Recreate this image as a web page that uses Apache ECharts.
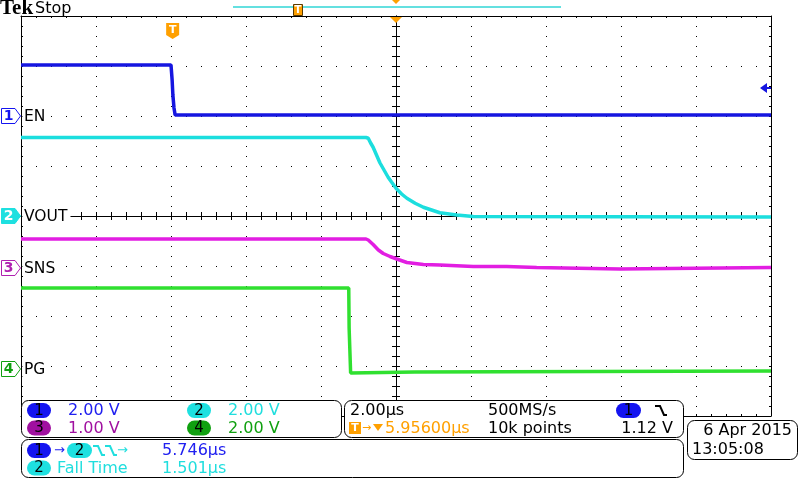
<!DOCTYPE html>
<html><head><meta charset="utf-8">
<script src="https://cdn.jsdelivr.net/npm/echarts@6/dist/echarts.min.js"></script>
<style>html,body{margin:0;padding:0;background:#fff}#c{width:800px;height:480px}</style>
</head><body><div id="c"></div>
<script>
// ---- data (time in µs relative to screen centre, values in volts) ----
const channelNames  = ['EN', 'VOUT', 'SNS', 'PG'];
const channelNums   = ['1', '2', '3', '4'];
const voltsPerDiv   = [2, 2, 1, 2];
const groundDiv     = [2, 0, -1.04, -3.06];
const triggerTime   = -5.956;
const triggerLevel  = 1.12;

const enTime   = [-10, -6.00, -5.97, -5.95, -5.92, -5.89, 10];
const enVolts  = [2.04, 2.04, 1.44, 0.84, 0.32, 0.04, 0.04];
const voutTime  = [-10, -0.80, -0.74, -0.68, -0.61, -0.52, -0.43, -0.32, -0.21, -0.12, 0, 0.15, 0.29, 0.51, 0.73, 0.95, 1.17, 1.62, 2.06, 10];
const voutVolts = [3.14, 3.14, 3.11, 2.93, 2.75, 2.44, 2.13, 1.84, 1.55, 1.36, 1.11, 0.88, 0.71, 0.51, 0.35, 0.24, 0.13, 0.04, -0.02, -0.04];
const snsTime  = [-10, -0.80, -0.74, -0.61, -0.47, -0.34, -0.16, 0.02, 0.29, 0.73, 1.17, 2.06, 2.95, 3.75, 5.97, 10];
const snsVolts = [0.58, 0.58, 0.56, 0.47, 0.36, 0.29, 0.23, 0.18, 0.11, 0.07, 0.06, 0.03, 0.03, 0.01, -0.02, 0.01];
const pgTime   = [-10, -1.26, -1.25, -1.23, -1.21, 0.5, 10];
const pgVolts  = [3.24, 3.24, 1.64, 1.60, -0.16, -0.12, -0.08];

const scaleTexts  = ['2.00 V', '2.00 V', '1.00 V', '2.00 V'];
const timebase    = '2.00\u00b5s';
const sampleRate  = '500MS/s';
const recordLen   = '10k points';
const trigOffset  = '5.95600\u00b5s';
const trigLvlText = '1.12 V';
const delayValue  = '5.746\u00b5s';
const fallLabel   = 'Fall Time';
const fallValue   = '1.501\u00b5s';
const dateText    = '6 Apr 2015';
const timeText    = '13:05:08';

// ---- styling ----
const traceColors = ['#1616e0', '#1cdede', '#e21ee2', '#30e030'];
const textColors  = ['#2020f0', '#20dede', '#a010a0', '#10a010'];
const pillColors  = ['#1414f0', '#1ee0e0', '#a010a0', '#10a010'];
const ORANGE = '#ffa000';
const FONT = '"DejaVu Sans"';

const chart = echarts.init(document.getElementById('c'));
const traces = [[enTime, enVolts], [voutTime, voutVolts], [snsTime, snsVolts], [pgTime, pgVolts]];
function toDiv(ch, v) { return groundDiv[ch] + v / voltsPerDiv[ch]; }

function xAx(pos, onZero, tickLen, split, inside) {
  return {
    type: 'value', min: -10, max: 10, interval: 2, position: pos,
    axisLine: { show: true, onZero: onZero, onZeroAxisIndex: 0, lineStyle: { color: '#000', width: 1 } },
    axisTick: { show: true, inside: inside, length: tickLen, lineStyle: { color: '#000', width: 1 } },
    minorTick: { show: true, splitNumber: 5, length: tickLen, lineStyle: { color: '#000', width: 1 } },
    splitLine: { show: split, lineStyle: { color: '#000', width: 1, type: [1, 9] } },
    axisLabel: { show: false }
  };
}
function yAx(pos, onZero, tickLen, split, inside) {
  return {
    type: 'value', min: -4, max: 4, interval: 1, position: pos,
    axisLine: { show: true, onZero: onZero, onZeroAxisIndex: 0, lineStyle: { color: '#000', width: 1 } },
    axisTick: { show: true, inside: inside, length: tickLen, lineStyle: { color: '#000', width: 1 } },
    minorTick: { show: true, splitNumber: 5, length: tickLen, lineStyle: { color: '#000', width: 1 } },
    splitLine: { show: split, lineStyle: { color: '#000', width: 1, type: [1, 14] } },
    axisLabel: { show: false }
  };
}

chart.setOption({
  animation: false,
  backgroundColor: '#fff',
  grid: { left: 21, top: 16, width: 750, height: 400 },
  xAxis: [
    xAx('bottom', true, 4, true, false),
    xAx('top', true, 4, false, false),
    xAx('top', false, 2, false, true),
    xAx('bottom', false, 2, false, true)
  ],
  yAxis: [
    yAx('left', true, 4, true, false),
    yAx('right', true, 4, false, false),
    yAx('left', false, 2, false, true),
    yAx('right', false, 2, false, true)
  ],
  series: traces.map(([ts, vs], ch) => ({
    type: 'line', name: channelNames[ch], xAxisIndex: 0, yAxisIndex: 0,
    data: ts.map((t, i) => [t, toDiv(ch, vs[i])]),
    showSymbol: false, symbol: 'none', z: 3,
    lineStyle: { color: traceColors[ch], width: 3.5 }
  }))
});

const finder = { xAxisIndex: 0, yAxisIndex: 0 };
const px = p => chart.convertToPixel(finder, p);
const G = [];
function txt(x, y, s, color, size, align, bold, family) {
  G.push({ type: 'text', x: x, y: y, z: 120,
    style: { text: s, fill: color, font: (bold ? 'bold ' : '') + size + 'px ' + (family || FONT),
      textAlign: align || 'left', textVerticalAlign: 'middle' } });
}
function rect(x, y, w, h, r, fill, stroke, z) {
  G.push({ type: 'rect', z: z || 100, shape: { x: x, y: y, width: w, height: h, r: r },
    style: { fill: fill, stroke: stroke || null, lineWidth: 1 } });
}
function pill(x, y, w, h, fill, s) {
  rect(x, y, w, h, h / 2, fill, null, 105);
  txt(x + w / 2, y + h / 2 + 0.5, s, '#000', 15, 'center');
}
function poly(points, fill, stroke, z, lw) {
  G.push({ type: 'polygon', z: z || 110, shape: { points: points }, style: { fill: fill, stroke: stroke || null, lineWidth: lw || 1 } });
}
function pline(points, stroke, lw, z) {
  G.push({ type: 'polyline', z: z || 110, shape: { points: points }, style: { fill: null, stroke: stroke, lineWidth: lw || 1.5 } });
}
function edgeGlyph(x, y, color) { pline([[x, y], [x + 5, y], [x + 9, y + 9], [x + 12, y + 9]], color, 2, 120); }

// header
txt(0, 9, 'Tek', '#000', 21, 'left', true, '"Liberation Serif"');
txt(35, 9, 'Stop', '#000', 16, 'left');
pline([[233, 7], [561, 7]], '#30d6d6', 1.5, 110);
rect(293.5, 4.5, 9, 11, 0, ORANGE, '#5a3a00', 112);
txt(298, 10.5, 'T', '#fff', 10, 'center', true);
const cx = px([0, 0])[0];
poly([[cx - 4, 0], [cx + 4, 0], [cx, 4]], ORANGE, null, 112);
poly([[cx - 6, 17], [cx + 6, 17], [cx, 23]], ORANGE, null, 112);
// trigger T marker
const tx = px([triggerTime, 0])[0];
poly([[tx - 6.5, 23], [tx + 6.5, 23], [tx + 6.5, 35], [tx, 39], [tx - 6.5, 35]], ORANGE, null, 112);
txt(tx, 30.5, 'T', '#fff', 11, 'center', true);
// trigger level arrow (channel 1)
const ty = px([10, toDiv(0, triggerLevel)])[1];
poly([[760, ty], [767, ty - 5], [767, ty + 5]], traceColors[0], null, 112);
pline([[766, ty], [771, ty]], traceColors[0], 2, 112);

// channel ground markers and labels
const mFill = ['#fff', pillColors[1], '#fff', '#fff'];
const mStroke = ['#1414f0', pillColors[1], '#b020b0', '#10a010'];
const mText = ['#1414f0', '#fff', '#b020b0', '#10a010'];
channelNames.forEach((name, ch) => {
  const gy = Math.round(px([-10, groundDiv[ch]])[1]);
  poly([[1.5, gy - 7.5], [15, gy - 7.5], [20.5, gy], [15, gy + 7.5], [1.5, gy + 7.5]], mFill[ch], mStroke[ch], 115, 1);
  txt(8.5, gy + 0.5, channelNums[ch], mText[ch], 14, 'center', true);
  rect(22.5, gy - 8, name.length * 11.5 + 2, 16, 0, '#fff', null, 108);
  txt(24, gy + 0.5, name, '#000', 15.5, 'left');
});

// bottom readout boxes
rect(21.5, 400.5, 320, 37, 7, '#fff', '#000');
rect(344.5, 400.5, 339, 37, 7, '#fff', '#000');
rect(21.5, 439.5, 662, 38, 7, '#fff', '#000');
rect(687.5, 420.5, 110, 39, 7, '#fff', '#000');

pill(27, 403, 24, 15, pillColors[0], channelNums[0]);
txt(68, 411, scaleTexts[0], textColors[0], 16);
pill(187, 403, 24, 15, pillColors[1], channelNums[1]);
txt(228, 411, scaleTexts[1], textColors[1], 16);
pill(27, 420.5, 24, 15, pillColors[2], channelNums[2]);
txt(68, 428.5, scaleTexts[2], textColors[2], 16);
pill(187, 420.5, 24, 15, pillColors[3], channelNums[3]);
txt(228, 428.5, scaleTexts[3], textColors[3], 16);

txt(350, 411, timebase, '#000', 16);
txt(488, 411, sampleRate, '#000', 16);
pill(616, 403, 25, 15, pillColors[0], channelNums[0]);
edgeGlyph(655, 406, '#000');
rect(349, 422, 12, 12, 0, ORANGE, null, 110);
txt(355, 428.5, 'T', '#fff', 11, 'center', true);
txt(362, 428.5, '\u2192', ORANGE, 11);
poly([[373, 424], [383, 424], [378, 431]], ORANGE, null, 112);
txt(385, 428.5, trigOffset, ORANGE, 16);
txt(488, 428.5, recordLen, '#000', 16);
txt(673, 428.5, trigLvlText, '#000', 16, 'right');

pill(27, 443, 24, 15, pillColors[0], channelNums[0]);
txt(54, 450.5, '\u2192', textColors[0], 13);
pill(67, 443, 25, 15, pillColors[1], channelNums[1]);
edgeGlyph(93, 446, textColors[1]);
edgeGlyph(105, 446, textColors[1]);
txt(117, 450.5, '\u2192', textColors[1], 13);
txt(162, 451, delayValue, textColors[0], 16);
pill(27, 460.5, 24, 15, pillColors[1], channelNums[1]);
txt(57, 468.5, fallLabel, textColors[1], 16);
txt(162, 468.5, fallValue, textColors[1], 16);

txt(792, 431, dateText, '#000', 16, 'right');
txt(692, 449.5, timeText, '#000', 16);

chart.setOption({ graphic: { elements: G } });
</script>
</body></html>
